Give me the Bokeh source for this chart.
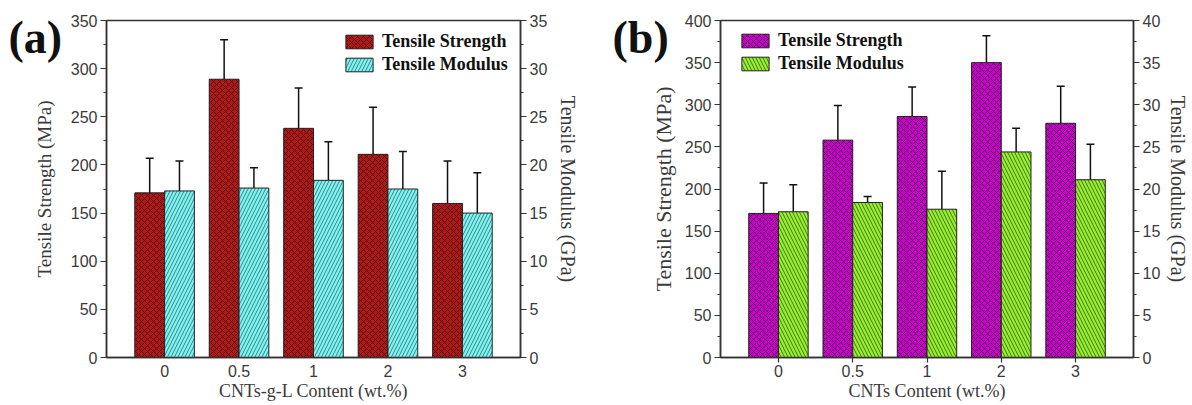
from bokeh.plotting import figure
from bokeh.models import (Range1d, LinearAxis, FixedTicker, Whisker, ColumnDataSource,
                          Legend, LegendItem, TeeHead)
from bokeh.layouts import row
from bokeh.embed import file_html
from bokeh.resources import INLINE
from bokeh.transform import dodge

categories = ["0", "0.5", "1", "2", "3"]

# Panel (a): CNTs-g-L
a_strength = [171, 289, 238, 211, 160]
a_strength_upper = [207, 330, 280, 260, 204]
a_strength_lower = [135, 248, 195, 162, 117]
a_modulus = [17.3, 17.6, 18.4, 17.5, 15.0]
a_modulus_upper = [20.4, 19.7, 22.4, 21.4, 19.2]
a_modulus_lower = [14.2, 15.6, 14.2, 13.7, 10.9]

# Panel (b): CNTs
b_strength = [171, 258, 286, 350, 278]
b_strength_upper = [207, 299, 321, 382, 322]
b_strength_lower = [135, 216, 253, 318, 234]
b_modulus = [17.3, 18.4, 17.6, 24.4, 21.1]
b_modulus_upper = [20.5, 19.1, 22.1, 27.2, 25.3]
b_modulus_lower = [14.2, 17.5, 13.0, 21.7, 18.0]

SANS = "Liberation Sans"
SERIF = "Liberation Serif"
AXIS_COLOR = "#333333"
TEXT_COLOR = "#3a3a3a"


def style_axis(ax, title_size="20px"):
    ax.axis_line_color = AXIS_COLOR
    ax.axis_line_width = 1.5
    ax.major_tick_line_color = AXIS_COLOR
    ax.minor_tick_line_color = AXIS_COLOR
    ax.major_tick_line_width = 1.2
    ax.minor_tick_line_width = 1.2
    ax.major_tick_out = 6
    ax.major_tick_in = 0
    ax.minor_tick_out = 3
    ax.minor_tick_in = 0
    ax.major_label_text_font = SANS
    ax.major_label_text_font_size = "16px"
    ax.major_label_text_color = TEXT_COLOR
    ax.axis_label_text_font = SERIF
    ax.axis_label_text_font_size = title_size
    ax.axis_label_text_font_style = "normal"
    ax.axis_label_text_color = TEXT_COLOR
    ax.major_label_standoff = 3
    ax.axis_label_standoff = 8


def make_panel(tag, xtitle, s_vals, s_up, s_lo, m_vals, m_up, m_lo,
               ymax_s, ymax_m, s_fill, s_hatch, m_fill, m_hatch, m_pattern,
               width, bl, br, legend_loc, xtick_out,
               tag_offset, left_size, left_standoff, right_standoff):
    x = list(range(len(categories)))
    src = ColumnDataSource(dict(
        x=x, s=s_vals, s_up=s_up, s_lo=s_lo, m=m_vals, m_up=m_up, m_lo=m_lo))

    p = figure(width=width, height=405, x_range=Range1d(-0.78, 4.78),
               y_range=Range1d(0, ymax_s), output_backend="svg",
               toolbar_location=None, min_border_left=bl, min_border_right=br,
               min_border_top=20, min_border_bottom=48)
    p.extra_y_ranges = {"mod": Range1d(0, ymax_m)}
    p.xgrid.visible = False
    p.ygrid.visible = False
    p.outline_line_color = AXIS_COLOR
    p.outline_line_width = 1.5
    p.background_fill_color = "white"

    r1 = p.vbar(x=dodge("x", -0.2), top="s", width=0.4, source=src,
                fill_color=s_fill, line_color="#222222", line_width=1,
                hatch_pattern="diagonal_cross", hatch_color=s_hatch,
                hatch_scale=6, hatch_weight=1)
    r2 = p.vbar(x=dodge("x", 0.2), top="m", width=0.4, source=src,
                y_range_name="mod",
                fill_color=m_fill, line_color="#222222", line_width=1,
                hatch_pattern=m_pattern, hatch_color=m_hatch,
                hatch_scale=7, hatch_weight=1)

    w1 = Whisker(base=dodge("x", -0.2), upper="s_up", lower="s_lo", source=src,
                 line_color="#111111", line_width=1.5,
                 upper_head=TeeHead(size=8, line_width=1.5, line_color="#111111"),
                 lower_head=TeeHead(size=8, line_width=1.5, line_color="#111111"))
    w2 = Whisker(base=dodge("x", 0.2), upper="m_up", lower="m_lo", source=src,
                 y_range_name="mod",
                 line_color="#111111", line_width=1.5,
                 upper_head=TeeHead(size=8, line_width=1.5, line_color="#111111"),
                 lower_head=TeeHead(size=8, line_width=1.5, line_color="#111111"))
    p.add_layout(w1)
    p.add_layout(w2)

    xa = p.xaxis[0]
    style_axis(xa, "18px")
    xa.ticker = FixedTicker(ticks=x, minor_ticks=[])
    xa.major_label_overrides = {i: c for i, c in enumerate(categories)}
    xa.major_tick_out = xtick_out
    xa.axis_label = xtitle
    xa.major_label_standoff = 7 - xtick_out
    xa.axis_label_standoff = 1

    ya = p.yaxis[0]
    style_axis(ya, left_size)
    step_s = 50
    ya.ticker = FixedTicker(ticks=[i * step_s for i in range(int(ymax_s / step_s) + 1)],
                            minor_ticks=[i * step_s / 2 for i in range(int(2 * ymax_s / step_s) + 1)])
    ya.axis_label = "Tensile Strength (MPa)"
    ya.axis_label_standoff = left_standoff

    ra = LinearAxis(y_range_name="mod", axis_label="Tensile Modulus (GPa)")
    style_axis(ra, "20px")
    ra.axis_label_standoff = right_standoff
    step_m = 5
    ra.ticker = FixedTicker(ticks=[i * step_m for i in range(int(ymax_m / step_m) + 1)],
                            minor_ticks=[i * 2.5 for i in range(int(ymax_m / 2.5) + 1)])
    p.add_layout(ra, "right")

    # panel tag "(a)"/"(b)" as the plot title, pulled into the top-left corner
    p.title.text = "\n" + tag
    p.title.align = "left"
    p.title.offset = tag_offset
    p.title.text_font = SERIF
    p.title.text_font_style = "bold"
    p.title.text_font_size = "46px"
    p.title.text_color = "#111111"
    try:
        p.title.standoff = -85
    except Exception:
        p.title.standoff = 0

    legend = Legend(items=[LegendItem(label="Tensile Strength", renderers=[r1]),
                           LegendItem(label="Tensile Modulus", renderers=[r2])],
                    location=legend_loc, orientation="vertical",
                    label_text_font=SERIF, label_text_font_style="bold",
                    label_text_font_size="18px", label_text_color="#111111",
                    glyph_width=34, glyph_height=17, label_standoff=6,
                    spacing=2, padding=2, margin=0,
                    border_line_alpha=0, background_fill_alpha=0)
    p.add_layout(legend)
    return p


pa = make_panel("(a)", "CNTs-g-L Content (wt.%)", a_strength, a_strength_upper,
                a_strength_lower, a_modulus, a_modulus_upper, a_modulus_lower,
                350, 35, "#B01818", "#5a0a0a", "#86F2F0", "#2d8a8a",
                "right_diagonal_line", 600, 106, 80, (234, 280), 0,
                -98, "19px", 13, 7)
pb = make_panel("(b)", "CNTs Content (wt.%)", b_strength, b_strength_upper,
                b_strength_lower, b_modulus, b_modulus_upper, b_modulus_lower,
                400, 40, "#CC00CC", "#5a005a", "#99EE33", "#3f7a12",
                "left_diagonal_line", 592, 120, 55, (16, 281), 5,
                -108, "22px", 6, 4)

layout = row(pa, pb)
open("out.html", "w").write(file_html(layout, INLINE))
